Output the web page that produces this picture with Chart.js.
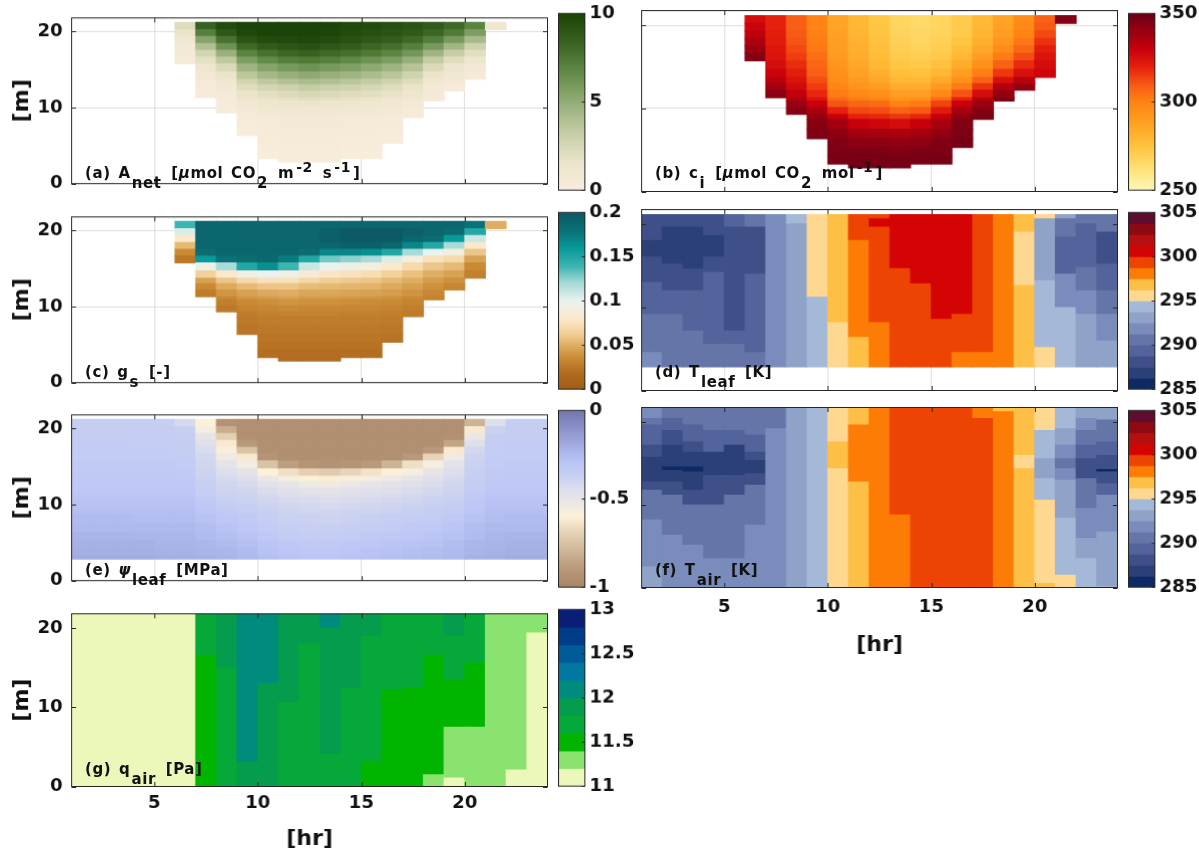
<!DOCTYPE html>
<html>
<head>
<meta charset="utf-8">
<script src="https://cdn.jsdelivr.net/npm/chart.js@4.4.0/dist/chart.umd.min.js"></script>
<style>
body { margin: 0; background: #fff; width: 1199px; height: 860px; position: relative; overflow: hidden; }
.box { position: absolute; }
.lab { position: absolute; font: bold 15px 'DejaVu Sans', sans-serif; line-height: 15px; color: #111; white-space: nowrap; letter-spacing: 0.6px; word-spacing: 2px; }
.lab sub { vertical-align: baseline; position: relative; top: 9.5px; font-size: 15px; margin-left: 1px; margin-right: 2px; }
.lab sup { vertical-align: baseline; position: relative; top: -6px; font-size: 14px; margin-left: 2px; margin-right: 2px; }
</style>
</head>
<body>
<script>
// hour columns (each cell spans h .. h+1)
var hours = [1,2,3,4,5,6,7,8,9,10,11,12,13,14,15,16,17,18,19,20,21,22,23];
// canopy layer edges [m], bottom to top
var canopyEdges = [2.85,3.3,4.3,5.3,6.35,7.5,8.7,9.3,10.1,10.9,11.3,12.2,13.0,13.75,14.7,15.75,16.65,17.55,18.45,19.35,20.25,21.2];

// layer values per hour column, listed from canopy top downwards
var aNet = [
  [],[],[],[],[],
  [2.2,1.6,1.1,0.7,0.5,0.3],
  [8.5,7.2,5.5,4.0,2.8,1.9,1.3,0.8,0.5,0.4,0.3],
  [9.6,9.0,7.8,6.3,4.8,3.5,2.4,1.6,1.1,0.8,0.5,0.4,0.3,0.2],
  [10,9.8,9.2,8.2,7.0,5.8,4.6,3.6,2.8,2.1,1.6,1.2,0.9,0.6,0.4,0.3,0.2],
  [10,10,9.6,8.8,7.8,6.7,5.5,4.4,3.5,2.7,2.0,1.6,1.2,0.9,0.7,0.5,0.4,0.3,0.2,0.1],
  [10,10,9.7,9.1,8.3,7.2,6.0,4.9,3.9,3.0,2.3,1.8,1.4,1.0,0.8,0.6,0.5,0.4,0.3,0.2,0.1],
  [10,10,9.8,9.3,8.5,7.4,6.3,5.2,4.2,3.3,2.6,2.0,1.5,1.1,0.8,0.6,0.5,0.4,0.3,0.2,0.1],
  [10,9.9,9.6,9.0,8.2,7.2,6.0,4.9,4.0,3.1,2.4,1.9,1.4,1.0,0.8,0.6,0.5,0.4,0.3,0.2,0.1],
  [9.8,9.6,9.3,8.7,7.9,6.8,5.7,4.6,3.7,2.9,2.2,1.7,1.3,0.9,0.7,0.5,0.4,0.3,0.2,0.1],
  [9.6,9.4,9.0,8.3,7.4,6.3,5.2,4.2,3.3,2.6,2.0,1.5,1.1,0.8,0.6,0.5,0.4,0.3,0.2,0.1],
  [9.4,9.2,8.7,7.9,6.9,5.8,4.7,3.7,2.9,2.2,1.7,1.3,0.9,0.7,0.5,0.4,0.3,0.2],
  [9.2,8.9,8.2,7.2,6.1,4.9,3.8,2.9,2.2,1.6,1.2,0.9,0.6,0.4,0.3],
  [8.8,8.3,7.3,6.0,4.6,3.3,2.3,1.5,1.0,0.7,0.5,0.4],
  [8.2,7.4,6.0,4.5,3.2,2.1,1.4,0.9,0.6,0.4],
  [7.0,5.8,4.3,3.0,2.0,1.3,0.8,0.5],
  [1.0],
  [],[]
];
var ci = [
  [],[],[],[],[],
  [326,329,332,336,340,344],
  [320,320,321,322,323,324,326,329,333,338,343],
  [309,309,310,311,313,315,318,321,324,327,331,335,340,344],
  [300,300,301,302,303,305,307,309,312,315,319,324,330,336,341,344,346],
  [287,287,288,289,290,291,293,295,297,299,302,306,311,320,330,338,343,345,346,347],
  [280,280,281,282,283,284,286,288,291,294,298,302,307,313,320,330,338,343,346,347,348],
  [274,274,275,276,277,278,280,283,286,290,295,300,306,312,319,328,337,343,346,347,348],
  [268,268,269,270,271,272,274,277,280,284,289,294,300,308,316,326,336,342,345,347,348],
  [266,266,267,268,269,271,273,276,280,284,289,295,302,310,319,330,338,343,346,347],
  [268,268,269,270,271,273,276,280,285,291,298,306,314,322,330,337,342,345,346,347],
  [272,272,273,275,277,280,284,289,295,302,311,320,330,337,342,345,346,347],
  [279,280,281,283,286,290,295,301,308,317,326,334,340,344,346],
  [287,288,290,293,297,302,308,316,325,334,341,345],
  [297,298,300,303,307,312,318,325,333,341],
  [308,310,313,317,321,324,326,328],
  [345],
  [],[]
];
var gs = [
  [],[],[],[],[],
  [0.14,0.105,0.08,0.055,0.035,0.025],
  [0.19,0.19,0.19,0.19,0.185,0.16,0.095,0.065,0.045,0.035,0.028],
  [0.19,0.19,0.19,0.19,0.19,0.18,0.12,0.08,0.06,0.048,0.04,0.034,0.029,0.026],
  [0.19,0.19,0.19,0.19,0.19,0.185,0.15,0.095,0.07,0.055,0.045,0.04,0.035,0.031,0.028,0.026,0.024],
  [0.19,0.19,0.19,0.19,0.19,0.188,0.165,0.1,0.075,0.06,0.048,0.042,0.037,0.033,0.03,0.028,0.026,0.024,0.022,0.02],
  [0.19,0.19,0.19,0.19,0.19,0.175,0.14,0.095,0.075,0.06,0.05,0.044,0.039,0.035,0.031,0.028,0.026,0.024,0.022,0.02,0.019],
  [0.19,0.19,0.19,0.19,0.185,0.15,0.11,0.085,0.068,0.056,0.047,0.042,0.038,0.034,0.031,0.028,0.026,0.024,0.022,0.02,0.019],
  [0.19,0.195,0.195,0.19,0.17,0.13,0.1,0.078,0.064,0.054,0.047,0.042,0.038,0.034,0.031,0.028,0.026,0.024,0.022,0.02,0.019],
  [0.19,0.2,0.2,0.195,0.17,0.125,0.095,0.075,0.062,0.053,0.046,0.041,0.037,0.033,0.03,0.028,0.026,0.024,0.022,0.02],
  [0.19,0.2,0.2,0.195,0.165,0.12,0.09,0.072,0.06,0.052,0.045,0.04,0.036,0.033,0.03,0.028,0.026,0.024,0.022,0.02],
  [0.19,0.2,0.2,0.19,0.15,0.105,0.08,0.065,0.055,0.048,0.043,0.038,0.035,0.032,0.029,0.027,0.025,0.023],
  [0.19,0.195,0.19,0.17,0.12,0.09,0.07,0.058,0.05,0.044,0.039,0.035,0.032,0.029,0.027],
  [0.19,0.19,0.185,0.15,0.1,0.075,0.06,0.05,0.043,0.038,0.034,0.031],
  [0.19,0.185,0.16,0.12,0.09,0.07,0.055,0.045,0.038,0.033],
  [0.18,0.15,0.11,0.08,0.06,0.045,0.035,0.03],
  [0.05],
  [],[]
];
var psiLeaf = [
  [-0.35,-0.35,-0.35,-0.34,-0.34,-0.34,-0.33,-0.33,-0.32,-0.32,-0.31,-0.3,-0.29,-0.28,-0.27,-0.25,-0.24,-0.22,-0.21,-0.2,-0.19],
  [-0.35,-0.35,-0.35,-0.34,-0.34,-0.34,-0.33,-0.33,-0.32,-0.32,-0.31,-0.3,-0.29,-0.28,-0.27,-0.25,-0.24,-0.22,-0.21,-0.2,-0.19],
  [-0.35,-0.35,-0.35,-0.34,-0.34,-0.34,-0.33,-0.33,-0.32,-0.32,-0.31,-0.3,-0.29,-0.28,-0.27,-0.25,-0.24,-0.22,-0.21,-0.2,-0.19],
  [-0.35,-0.35,-0.35,-0.35,-0.34,-0.34,-0.33,-0.33,-0.32,-0.32,-0.31,-0.3,-0.29,-0.28,-0.27,-0.26,-0.24,-0.23,-0.21,-0.2,-0.19],
  [-0.36,-0.35,-0.35,-0.35,-0.34,-0.34,-0.33,-0.33,-0.32,-0.32,-0.31,-0.3,-0.29,-0.28,-0.27,-0.26,-0.24,-0.23,-0.22,-0.21,-0.2],
  [-0.42,-0.37,-0.36,-0.35,-0.35,-0.34,-0.34,-0.33,-0.33,-0.32,-0.31,-0.3,-0.29,-0.28,-0.27,-0.26,-0.24,-0.23,-0.22,-0.21,-0.2],
  [-0.6,-0.56,-0.5,-0.46,-0.43,-0.41,-0.4,-0.39,-0.38,-0.37,-0.36,-0.35,-0.33,-0.31,-0.3,-0.28,-0.26,-0.25,-0.23,-0.22,-0.21],
  [-0.93,-0.82,-0.7,-0.62,-0.58,-0.54,-0.49,-0.45,-0.42,-0.4,-0.39,-0.38,-0.37,-0.35,-0.33,-0.31,-0.29,-0.27,-0.25,-0.23,-0.22],
  [-0.95,-0.95,-0.94,-0.9,-0.75,-0.62,-0.55,-0.49,-0.45,-0.42,-0.4,-0.39,-0.38,-0.36,-0.35,-0.33,-0.31,-0.29,-0.27,-0.25,-0.24],
  [-0.95,-0.95,-0.95,-0.95,-0.94,-0.92,-0.75,-0.6,-0.52,-0.47,-0.43,-0.41,-0.4,-0.38,-0.37,-0.36,-0.34,-0.32,-0.3,-0.28,-0.27],
  [-0.95,-0.95,-0.95,-0.95,-0.95,-0.95,-0.88,-0.65,-0.56,-0.5,-0.46,-0.44,-0.42,-0.4,-0.39,-0.38,-0.36,-0.34,-0.32,-0.3,-0.29],
  [-0.95,-0.95,-0.95,-0.95,-0.95,-0.95,-0.92,-0.7,-0.6,-0.53,-0.48,-0.45,-0.43,-0.41,-0.4,-0.38,-0.37,-0.35,-0.33,-0.31,-0.3],
  [-0.95,-0.95,-0.95,-0.95,-0.95,-0.95,-0.93,-0.72,-0.61,-0.54,-0.49,-0.46,-0.44,-0.42,-0.4,-0.39,-0.37,-0.35,-0.33,-0.31,-0.3],
  [-0.95,-0.95,-0.95,-0.95,-0.95,-0.95,-0.92,-0.68,-0.58,-0.52,-0.47,-0.45,-0.43,-0.41,-0.39,-0.38,-0.36,-0.34,-0.32,-0.3,-0.29],
  [-0.95,-0.95,-0.95,-0.95,-0.95,-0.95,-0.9,-0.64,-0.56,-0.5,-0.46,-0.44,-0.42,-0.4,-0.39,-0.37,-0.35,-0.33,-0.31,-0.29,-0.28],
  [-0.95,-0.95,-0.95,-0.95,-0.95,-0.94,-0.8,-0.6,-0.53,-0.48,-0.45,-0.43,-0.41,-0.39,-0.38,-0.36,-0.34,-0.32,-0.3,-0.28,-0.27],
  [-0.95,-0.95,-0.95,-0.95,-0.95,-0.9,-0.65,-0.56,-0.5,-0.46,-0.43,-0.41,-0.4,-0.38,-0.37,-0.35,-0.33,-0.31,-0.29,-0.27,-0.26],
  [-0.95,-0.95,-0.95,-0.95,-0.9,-0.68,-0.56,-0.5,-0.46,-0.43,-0.41,-0.4,-0.38,-0.37,-0.35,-0.34,-0.32,-0.3,-0.28,-0.26,-0.25],
  [-0.95,-0.95,-0.94,-0.85,-0.62,-0.54,-0.48,-0.45,-0.42,-0.4,-0.39,-0.38,-0.37,-0.35,-0.34,-0.32,-0.3,-0.28,-0.26,-0.25,-0.24],
  [-0.8,-0.62,-0.52,-0.45,-0.41,-0.39,-0.38,-0.37,-0.36,-0.35,-0.34,-0.33,-0.32,-0.31,-0.3,-0.28,-0.26,-0.25,-0.23,-0.22,-0.21],
  [-0.45,-0.38,-0.36,-0.35,-0.35,-0.34,-0.34,-0.33,-0.33,-0.32,-0.31,-0.3,-0.29,-0.28,-0.27,-0.26,-0.24,-0.23,-0.22,-0.21,-0.2],
  [-0.35,-0.35,-0.35,-0.34,-0.34,-0.34,-0.33,-0.33,-0.32,-0.32,-0.31,-0.3,-0.29,-0.28,-0.27,-0.25,-0.24,-0.22,-0.21,-0.2,-0.19],
  [-0.35,-0.35,-0.35,-0.34,-0.34,-0.34,-0.33,-0.33,-0.32,-0.32,-0.31,-0.3,-0.29,-0.28,-0.27,-0.25,-0.24,-0.22,-0.21,-0.2,-0.19]
];

// piecewise profiles per hour column: [bottom m, top m, value]
var tLeaf = [
  [[2.85,4.7,291.9],[4.7,9.3,290.6],[9.3,13.15,289.4],[13.15,16.2,288.1],[16.2,18.2,286.9],[18.2,21.2,288.1]],
  [[2.85,9.3,290.6],[9.3,12.15,289.4],[12.15,15.35,288.1],[15.35,19.8,286.9],[19.8,21.2,288.1]],
  [[2.85,7.3,290.6],[7.3,12.15,289.4],[12.15,14.75,288.1],[14.75,19.8,286.9],[19.8,21.2,288.1]],
  [[2.85,5.7,290.6],[5.7,14.35,289.4],[14.35,16.2,288.1],[16.2,18.8,286.9],[18.8,21.2,288.1]],
  [[2.85,5.7,290.6],[5.7,7.3,289.4],[7.3,19.8,288.1],[19.8,21.2,289.4]],
  [[2.85,4.7,290.6],[4.7,14.15,289.4],[14.15,19.8,288.1],[19.8,21.2,290.6]],
  [[2.85,21.2,291.9]],
  [[2.85,20.2,293.1],[20.2,21.2,294.4]],
  [[2.85,11.35,294.4],[11.35,21.2,295.6]],
  [[2.85,8.3,295.6],[8.3,21.2,296.9]],
  [[2.85,6.5,296.9],[6.5,18.2,298.1],[18.2,21.2,299.4]],
  [[2.85,8.3,298.1],[8.3,19.8,299.4],[19.8,20.8,300.6],[20.8,21.2,299.4]],
  [[2.85,14.8,299.4],[14.8,21.2,300.6]],
  [[2.85,12.95,299.4],[12.95,21.2,300.6]],
  [[2.85,8.7,299.4],[8.7,21.2,300.6]],
  [[2.85,4.7,298.1],[4.7,9.3,299.4],[9.3,21.2,300.6]],
  [[2.85,4.7,298.1],[4.7,21.2,299.4]],
  [[2.85,21.2,298.1]],
  [[2.85,12.75,296.9],[12.75,19.2,295.6],[19.2,21.2,296.9]],
  [[2.85,5.3,295.6],[5.3,13.35,294.4],[13.35,20.8,293.1],[20.8,21.2,295.6]],
  [[2.85,10.1,294.4],[10.1,14.15,291.9],[14.15,18.6,289.4],[18.6,20.8,290.6],[20.8,21.2,293.1]],
  [[2.85,9.3,293.1],[9.3,12.15,291.9],[12.15,14.95,290.6],[14.95,20.2,289.4],[20.2,21.2,290.6]],
  [[2.85,6.1,293.1],[6.1,9.3,291.9],[9.3,12.15,290.6],[12.15,15.35,289.4],[15.35,19.2,288.1],[19.2,21.2,290.6]]
];
var tAir = [
  [[0,2.6,293.1],[2.6,8.3,291.9],[8.3,11.9,290.6],[11.9,12.9,288.1],[12.9,15.9,286.9],[15.9,17.35,288.1],[17.35,19.8,289.4],[19.8,20.6,290.6],[20.6,21.8,291.9]],
  [[0,6.45,291.9],[6.45,11.3,290.6],[11.3,12.9,288.1],[12.9,14.3,286.9],[14.3,14.7,285.6],[14.7,17.35,286.9],[17.35,19.15,288.1],[19.15,20.6,289.4],[20.6,21.8,290.6]],
  [[0,5.25,291.9],[5.25,10.1,290.6],[10.1,11.9,288.1],[11.9,14.1,286.9],[14.1,14.7,285.6],[14.7,16.5,286.9],[16.5,17.75,288.1],[17.75,19.8,289.4],[19.8,21.8,290.6]],
  [[0,3.6,291.9],[3.6,10.1,290.6],[10.1,13.7,288.1],[13.7,16.5,286.9],[16.5,19.15,289.4],[19.15,21.8,290.6]],
  [[0,3.6,291.9],[3.6,11.3,290.6],[11.3,13.7,288.1],[13.7,17.35,286.9],[17.35,19.15,289.4],[19.15,21.8,290.6]],
  [[0,7.65,291.9],[7.65,12.5,290.6],[12.5,13.9,288.1],[13.9,15.5,286.9],[15.5,16.5,288.1],[16.5,18.55,289.4],[18.55,21.8,290.6]],
  [[0,19.35,291.9],[19.35,21.8,290.6]],
  [[0,21.8,293.1]],
  [[0,21.8,294.4]],
  [[0,14.5,295.6],[14.5,17.75,296.9],[17.75,21.8,295.6]],
  [[0,12.9,296.9],[12.9,19.8,298.1],[19.8,21.8,296.9]],
  [[0,21.8,298.1]],
  [[0,8.9,298.1],[8.9,21.8,299.4]],
  [[0,21.8,299.4]],
  [[0,21.8,299.4]],
  [[0,21.8,299.4]],
  [[0,20.6,299.4],[20.6,21.8,298.1]],
  [[0,21.4,298.1],[21.4,21.8,296.9]],
  [[0,14.5,296.9],[14.5,16.1,295.6],[16.1,21.8,296.9]],
  [[0,0.6,296.9],[0.6,10.7,295.6],[10.7,13.3,294.4],[13.3,15.7,293.1],[15.7,19.15,294.4],[19.15,21.8,295.6]],
  [[0,1.6,295.6],[1.6,8.5,294.4],[8.5,13.1,293.1],[13.1,14.5,291.9],[14.5,15.7,290.6],[15.7,17.35,291.9],[17.35,19.35,293.1],[19.35,21.8,294.4]],
  [[0,3.6,294.4],[3.6,6.05,293.1],[6.05,9.7,291.9],[9.7,13.3,290.6],[13.3,15.7,288.1],[15.7,17.35,289.4],[17.35,19.15,290.6],[19.15,20.6,291.9],[20.6,21.8,293.1]],
  [[0,0.2,294.4],[0.2,6.85,293.1],[6.85,11.3,291.9],[11.3,12.7,289.4],[12.7,14.1,288.1],[14.1,14.4,285.6],[14.4,16.1,288.1],[16.1,17.75,289.4],[17.75,20.4,290.6],[20.4,21.8,293.1]]
];
var qAir = [
  [[0,21.8,11.1]],[[0,21.8,11.1]],[[0,21.8,11.1]],[[0,21.8,11.1]],[[0,21.8,11.1]],[[0,21.8,11.1]],
  [[0,16.7,11.5],[16.7,21.8,11.7]],
  [[0,15.1,11.7],[15.1,21.8,11.9]],
  [[0,3.2,11.9],[3.2,21.8,12.1]],
  [[0,13.1,11.9],[13.1,21.8,12.1]],
  [[0,10.7,11.7],[10.7,21.8,11.9]],
  [[0,18.1,11.7],[18.1,21.8,11.9]],
  [[0,4.2,11.7],[4.2,20.1,11.9],[20.1,21.8,12.1]],
  [[0,12.5,11.7],[12.5,21.8,11.9]],
  [[0,3.2,11.5],[3.2,19.1,11.7],[19.1,21.8,11.9]],
  [[0,12.3,11.5],[12.3,21.8,11.7]],
  [[0,12.6,11.5],[12.6,21.8,11.7]],
  [[0,1.6,11.3],[1.6,16.7,11.5],[16.7,21.8,11.7]],
  [[0,1.2,11.1],[1.2,7.6,11.3],[7.6,13.6,11.5],[13.6,19.1,11.7],[19.1,21.8,11.9]],
  [[0,7.6,11.3],[7.6,15.7,11.5],[15.7,21.8,11.7]],
  [[0,21.8,11.3]],
  [[0,2.2,11.1],[2.2,21.8,11.3]],
  [[0,19.5,11.1],[19.5,21.8,11.3]]
];

var xTicks = [5,10,15,20];
var yTicks = [0,10,20];

// colour maps
function rgb(h) { return [parseInt(h.slice(1,3),16), parseInt(h.slice(3,5),16), parseInt(h.slice(5,7),16)]; }
function ramp(stops) {
  var s = stops.map(function (d) { return [d[0], rgb(d[1])]; });
  return function (v) {
    if (v <= s[0][0]) return stops[0][1];
    for (var i = 1; i < s.length; i++) {
      if (v <= s[i][0]) {
        var t = (v - s[i-1][0]) / (s[i][0] - s[i-1][0]), a = s[i-1][1], b = s[i][1];
        return 'rgb(' + Math.round(a[0]+(b[0]-a[0])*t) + ',' + Math.round(a[1]+(b[1]-a[1])*t) + ',' + Math.round(a[2]+(b[2]-a[2])*t) + ')';
      }
    }
    return stops[stops.length-1][1];
  };
}
function bins(lo, step, colors) {
  return function (v) {
    var k = Math.floor((v - lo) / step);
    return colors[Math.max(0, Math.min(colors.length - 1, k))];
  };
}
var cmapA = ramp([[0,'#f9ecdc'],[1.5,'#ece5cc'],[3,'#cdd2ac'],[5,'#94ad78'],[7,'#5a8440'],[8.5,'#386020'],[10,'#1b4408']]);
var cmapB = ramp([[250,'#fff8b8'],[262,'#ffe27a'],[275,'#ffc440'],[287,'#ffa424'],[300,'#ff8414'],[310,'#f75a14'],[320,'#e6200c'],[330,'#c8000c'],[340,'#9a0010'],[350,'#6a0016']]);
var cmapC = ramp([[0,'#a15b14'],[0.02,'#b46e22'],[0.035,'#c98a34'],[0.05,'#e0ae62'],[0.065,'#f2d29c'],[0.08,'#fbe9cc'],[0.1,'#eaf2ef'],[0.12,'#a9dcd8'],[0.14,'#3cb4b0'],[0.16,'#079a9a'],[0.18,'#0a7276'],[0.2,'#0c5a66']]);
var cmapE = ramp([[-1,'#a88466'],[-0.85,'#c2a486'],[-0.76,'#d6c0a2'],[-0.67,'#ead8bc'],[-0.6,'#fdf0d8'],[-0.55,'#f2ece2'],[-0.5,'#e6e4e6'],[-0.44,'#dcdeec'],[-0.37,'#c8d0f2'],[-0.3,'#bcc6f6'],[-0.22,'#aab4e8'],[-0.11,'#8e96cc'],[0,'#7678b0']]);
var tempColors = ['#0e2a66','#2c4078','#3f5089','#53639b','#6575a8','#7a8cbc','#8fa2c8','#a4b8d8','#fed791','#fdbf45','#fc7c05','#ed4403','#d40404','#b5100f','#8e0a12','#5e0c30'];
var qColors = ['#ecf7ba','#8ae36e','#00b400','#07a83a','#069c4e','#008c7c','#0078a0','#005a96','#003c8a','#0a1e78'];
var cmapT = bins(285, 1.25, tempColors);
var cmapQ = bins(11, 0.2, qColors);

// cells from layer lists (top-down) or from profile segments
function layerCells(cols) {
  var out = [];
  cols.forEach(function (vals, h) {
    vals.forEach(function (v, k) {
      var i = canopyEdges.length - 2 - k;
      out.push({x: hours[h] + 0.5, y: [canopyEdges[i], canopyEdges[i+1]], v: v});
    });
  });
  return out;
}
function segCells(cols) {
  var out = [];
  cols.forEach(function (segs, h) {
    segs.forEach(function (s) { out.push({x: hours[h] + 0.5, y: [s[0], s[1]], v: s[2]}); });
  });
  return out;
}
function rampBar(lo, hi, n) {
  var out = [];
  for (var i = 0; i < n; i++) {
    var a = lo + (hi - lo) * i / n, b = lo + (hi - lo) * (i + 1) / n;
    out.push({x: 'c', y: [a, b], v: (a + b) / 2});
  }
  return out;
}
function binBar(lo, step, n) {
  var out = [];
  for (var i = 0; i < n; i++) out.push({x: 'c', y: [lo + step*i, lo + step*(i+1)], v: lo + step*(i+0.5)});
  return out;
}

var panels = [
  {col:0, row:0, cells: layerCells(aNet), cmap: cmapA, cb: rampBar(0,10,100), range:[0,10], cbTicks:[0,5,10],
   label:'(a) A<sub>net</sub> [<i>μ</i>mol CO<sub>2</sub> m<sup>-2</sup> s<sup>-1</sup>]'},
  {col:1, row:0, cells: layerCells(ci), cmap: cmapB, cb: rampBar(250,350,100), range:[250,350], cbTicks:[250,300,350],
   label:'(b) c<sub>i</sub> [<i>μ</i>mol CO<sub>2</sub> mol<sup>-1</sup>]'},
  {col:0, row:1, cells: layerCells(gs), cmap: cmapC, cb: rampBar(0,0.2,100), range:[0,0.2], cbTicks:[0,0.05,0.1,0.15,0.2],
   label:'(c) g<sub>s</sub> [-]'},
  {col:1, row:1, cells: segCells(tLeaf), cmap: cmapT, cb: binBar(285,1.25,16), range:[285,305], cbTicks:[285,290,295,300,305],
   label:'(d) T<sub>leaf</sub> [K]'},
  {col:0, row:2, cells: layerCells(psiLeaf), cmap: cmapE, cb: rampBar(-1,0,100), range:[-1,0], cbTicks:[-1,-0.5,0],
   label:'(e) <i>ψ</i><sub>leaf</sub> [MPa]'},
  {col:1, row:2, cells: segCells(tAir), cmap: cmapT, cb: binBar(285,1.25,16), range:[285,305], cbTicks:[285,290,295,300,305],
   label:'(f) T<sub>air</sub> [K]', xAxis: true},
  {col:0, row:3, cells: segCells(qAir), cmap: cmapQ, cb: binBar(11,0.2,10), range:[11,13], cbTicks:[11,11.5,12,12.5,13],
   label:'(g) q<sub>air</sub> [Pa]', xAxis: true}
];

var plotLeft = [71.5, 641.5], plotTop = [10.5, 209.5, 407.5, 606.5];
var plotW = 475, plotH = 180, cbGap = 487, cbW = 26;
var ink = '#111';
var tickFont = {family: "'DejaVu Sans', sans-serif", size: 18, weight: 'bold'};
var titleFont = {family: "'DejaVu Sans', sans-serif", size: 22, weight: 'bold'};

var framePlugin = {
  id: 'frame',
  afterDatasetsDraw: function (chart, args, opts) {
    var a = chart.chartArea, c = chart.ctx;
    c.save();
    c.strokeStyle = '#262626';
    c.lineWidth = 1;
    c.beginPath();
    if (opts.ticks) {
      var sx = chart.scales.x, sy = chart.scales.y;
      xTicks.forEach(function (v) {
        var px = Math.round(sx.getPixelForValue(v)) + 0.5;
        c.moveTo(px, a.top); c.lineTo(px, a.top + 4.5);
        c.moveTo(px, a.bottom); c.lineTo(px, a.bottom - 4.5);
      });
      yTicks.forEach(function (v) {
        var py = Math.round(sy.getPixelForValue(v)) + 0.5;
        c.moveTo(a.left, py); c.lineTo(a.left + 4.5, py);
        c.moveTo(a.right, py); c.lineTo(a.right - 4.5, py);
      });
    }
    if (opts.cbTicks) {
      opts.cbTicks.forEach(function (v) {
        var py = Math.round(chart.scales.y.getPixelForValue(v)) + 0.5;
        c.moveTo(a.right, py); c.lineTo(a.right - 3, py);
      });
    }
    c.stroke();
    c.strokeRect(a.left, a.top, a.right - a.left, a.bottom - a.top);
    c.restore();
  }
};

function addBox(left, top, w, h) {
  var d = document.createElement('div');
  d.className = 'box';
  d.style.left = left + 'px'; d.style.top = top + 'px';
  d.style.width = w + 'px'; d.style.height = h + 'px';
  var cv = document.createElement('canvas');
  d.appendChild(cv);
  document.body.appendChild(d);
  return cv;
}

function makePanel(p) {
  var x0 = plotLeft[p.col], y0 = plotTop[p.row];
  var left = Math.floor(x0) - 62, top = Math.floor(y0) - 12;
  var padL = x0 - left, padT = y0 - top;
  var padB = p.xAxis ? (p.col === 0 ? 65.7 : 70.7) : 12;
  var cv = addBox(left, top, padL + plotW + 8, padT + plotH + padB);
  new Chart(cv, {
    type: 'bar',
    data: {
      datasets: [{
        data: p.cells,
        backgroundColor: function (c) { return c.raw ? p.cmap(c.raw.v) : '#fff'; },
        borderWidth: 0,
        barPercentage: 1,
        categoryPercentage: 1,
        inflateAmount: 0.5
      }]
    },
    options: {
      responsive: true,
      maintainAspectRatio: false,
      animation: false,
      layout: {padding: {top: padT, right: 8, left: 0, bottom: 0}},
      plugins: {legend: {display: false}, tooltip: {enabled: false}, frame: {ticks: true}},
      scales: {
        x: {
          type: 'linear', min: 1, max: 24, offset: false,
          afterBuildTicks: function (ax) { ax.ticks = xTicks.map(function (v) { return {value: v}; }); },
          afterFit: function (s) { s.height = padB; },
          grid: {color: '#dedede', offset: false, drawTicks: false},
          border: {display: false},
          ticks: {display: !!p.xAxis, padding: p.col === 0 ? 6 : 9, font: tickFont, color: ink, maxRotation: 0},
          title: {display: !!p.xAxis, text: '[hr]', font: titleFont, color: ink, padding: 0}
        },
        y: {
          min: 0, max: 21.8,
          afterBuildTicks: function (ax) { ax.ticks = yTicks.map(function (v) { return {value: v}; }); },
          afterFit: function (s) { s.width = padL; },
          grid: {color: '#dedede', drawTicks: false},
          border: {display: false},
          ticks: {display: p.col === 0, padding: 9, font: tickFont, color: ink},
          title: {display: p.col === 0, text: '[m]', font: titleFont, color: ink, padding: 0}
        }
      }
    },
    plugins: [framePlugin]
  });

  // colour bar
  var cx = x0 + cbGap;
  var cl = Math.floor(cx), cpadL = cx - cl;
  var cbv = addBox(cl, top, cpadL + cbW + 50, padT + plotH + 14);
  new Chart(cbv, {
    type: 'bar',
    data: {
      labels: ['c'],
      datasets: [{
        data: p.cb,
        backgroundColor: function (c) { return c.raw ? p.cmap(c.raw.v) : '#fff'; },
        borderWidth: 0,
        barPercentage: 1,
        categoryPercentage: 1,
        inflateAmount: 0.5
      }]
    },
    options: {
      responsive: true,
      maintainAspectRatio: false,
      animation: false,
      layout: {padding: {top: padT, left: cpadL, right: 0, bottom: 14}},
      plugins: {legend: {display: false}, tooltip: {enabled: false}, frame: {cbTicks: p.cbTicks}},
      scales: {
        x: {display: false},
        y: {
          position: 'right', min: p.range[0], max: p.range[1],
          afterBuildTicks: function (ax) { ax.ticks = p.cbTicks.map(function (v) { return {value: v}; }); },
          afterFit: function (s) { s.width = 50; },
          grid: {display: false, drawTicks: false},
          border: {display: false},
          ticks: {padding: 4.5, font: tickFont, color: ink, callback: function (v) { return String(v); }}
        }
      }
    },
    plugins: [framePlugin]
  });

  // panel label
  var lab = document.createElement('div');
  lab.className = 'lab';
  lab.innerHTML = p.label;
  lab.style.left = (x0 + 13.5) + 'px';
  lab.style.top = (y0 + plotH - 11.5 - 12.7) + 'px';
  document.body.appendChild(lab);
}

panels.forEach(makePanel);
</script>
</body>
</html>
